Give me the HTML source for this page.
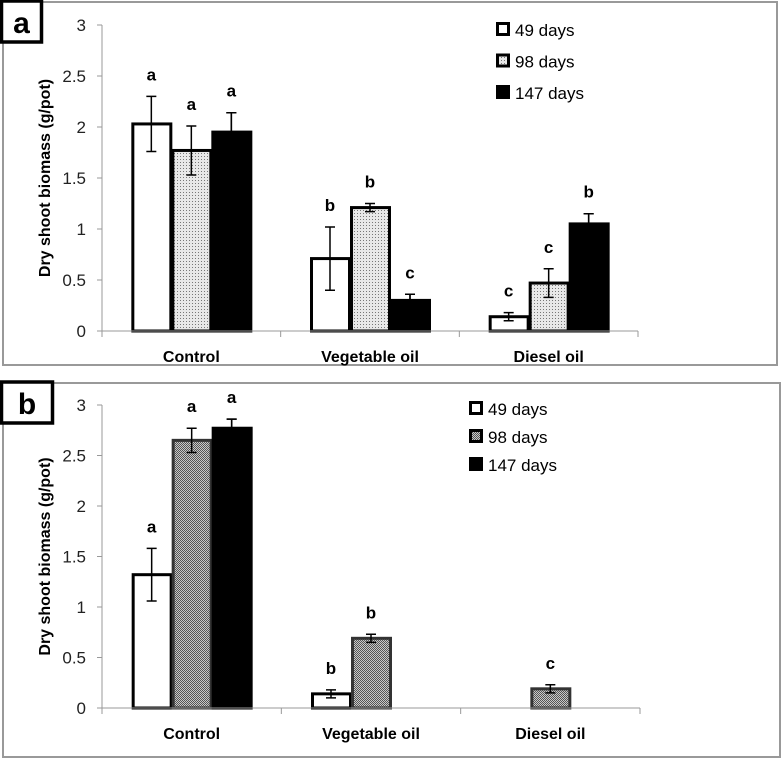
<!DOCTYPE html>
<html><head><meta charset="utf-8"><style>
body{margin:0;background:#fff;width:782px;height:760px;overflow:hidden}
svg{display:block;font-family:"Liberation Sans",sans-serif}
</style></head><body>
<svg id="c" width="782" height="760">
<defs>
<pattern id="dotA" width="3" height="3" patternUnits="userSpaceOnUse"><rect width="3" height="3" fill="#e8e8e8"/><rect width="1" height="1" fill="#777"/></pattern>
<pattern id="dotB" width="2" height="2" patternUnits="userSpaceOnUse"><rect width="2" height="2" fill="#c8c8c8"/><rect width="1" height="1" fill="#555"/><rect x="1" y="1" width="1" height="1" fill="#555"/></pattern>
</defs>
</svg>
<script>
const categories=["Control","Vegetable oil","Diesel oil"];
const seriesNames=["49 days","98 days","147 days"];
const ticks=[0,0.5,1,1.5,2,2.5,3];
const aValues=[[2.03,1.77,1.95],[0.71,1.21,0.30],[0.14,0.47,1.05]];
const aErrors=[[0.27,0.24,0.19],[0.31,0.04,0.06],[0.04,0.14,0.10]];
const aLetters=[["a","a","a"],["b","b","c"],["c","c","b"]];
const bValues=[[1.32,2.65,2.77],[0.14,0.69,0],[0,0.19,0]];
const bErrors=[[0.26,0.12,0.09],[0.04,0.04,0],[0,0.04,0]];
const bLetters=[["a","a","a"],["b","b",""],["","c",""]];
const NS="http://www.w3.org/2000/svg";
const svg=document.getElementById('c');
function mk(t,a,p){const e=document.createElementNS(NS,t);for(const k in a)e.setAttribute(k,a[k]);(p||svg).appendChild(e);return e;}
function panel(cfg){
  const g=mk('g',{});
  
  
  mk('rect',{x:cfg.fx,y:cfg.fy,width:cfg.fw,height:cfg.fh,fill:'none',stroke:'#999','stroke-width':2},g);
  const y=v=>cfg.y0-(v/3)*(cfg.y0-cfg.y3);
  const x0=102,x1=cfg.xe,cw=(x1-x0)/3;
  const ax=mk('line',{x1:x0,y1:cfg.y3,x2:x0,y2:cfg.y0,stroke:'#999','stroke-width':1},g);
  
  ticks.forEach(t=>{mk('line',{x1:x0-5,x2:x0,y1:y(t),y2:y(t),stroke:'#999'},g);
    const tx=mk('text',{x:86,y:y(t)+6,'text-anchor':'end','font-size':17,fill:'#222'},g);tx.textContent=t;
    });
  const yt=mk('text',{x:0,y:0,transform:`translate(50,${(cfg.y0+cfg.y3)/2}) rotate(-90)`,'text-anchor':'middle','font-size':16,'font-weight':'bold'},g);
  yt.textContent='Dry shoot biomass (g/pot)';
  const fills=['#fff',cfg.pat,'#000'];
  for(let i=0;i<=3;i++)mk('line',{x1:x0+i*cw,x2:x0+i*cw,y1:cfg.y0,y2:cfg.y0+6,stroke:'#999'},g);
  categories.forEach((c,ci)=>{
    const cx=x0+cw*(ci+0.5);
    const ct=mk('text',{x:cx,y:cfg.y0+31,'text-anchor':'middle','font-size':16,'font-weight':'bold'},g);ct.textContent=c;
    
    for(let s=0;s<3;s++){
      const v=cfg.vals[ci][s];const bx=cx-60+s*40;
      if(v>0){
        const r=mk('rect',{x:bx+1.5,y:y(v),width:38,height:cfg.y0-y(v),fill:fills[s],stroke:s==1&&cfg.id=='b'?'#333':'#000','stroke-width':3},g);
        
        const e=cfg.errs[ci][s];const ex=bx+20;const ec=s==2?'#000':'#000';
        if(e>0){mk('path',{d:`M${ex},${y(v-e)}V${y(v+e)}M${ex-5},${y(v+e)}H${ex+5}M${ex-5},${y(v-e)}H${ex+5}`,stroke:s==2?'#000':'#000','stroke-width':1.5,fill:'none'},g);
          if(s==2) mk('path',{d:`M${ex},${y(v)}V${y(v+e)}M${ex-5},${y(v+e)}H${ex+5}`,stroke:'#000','stroke-width':1.5},g);}
      }
      const L=cfg.lets[ci][s];
      if(L){const top=y(v+cfg.errs[ci][s]);const lt=mk('text',{x:bx+20,y:top-16,'text-anchor':'middle','font-size':17,'font-weight':'bold'},g);lt.textContent=L;
        }
    }
  });
  mk('line',{x1:x0,x2:x1,y1:cfg.y0,y2:cfg.y0,stroke:'#999'},g);
  seriesNames.forEach((n,i)=>{const ly=cfg.ly+i*cfg.lg;
    const lr=mk('rect',{x:cfg.lx+1.5,y:ly-6.5,width:11,height:11,fill:fills[i],stroke:'#000','stroke-width':3},g);
    
    const t=mk('text',{x:cfg.lx+19,y:ly+6,'font-size':17},g);t.textContent=n;
    });
  const bw=cfg.id=='a'?40:51;
  mk('rect',{x:1.5,y:cfg.fy-1,width:bw,height:41,fill:'#fff',stroke:'#000','stroke-width':3.5},g);
  const pl=mk('text',{x:1.5+bw/2,y:cfg.fy+31,'text-anchor':'middle','font-size':30,'font-weight':'bold'},g);pl.textContent=cfg.id;
  
}
panel({id:'a',fx:3,fy:2,fw:774,fh:363,y0:331,y3:25,xe:638,vals:aValues,errs:aErrors,lets:aLetters,pat:'url(#dotA)',lx:496,ly:30,lg:31.5});
panel({id:'b',fx:3,fy:383,fw:777,fh:374,y0:708,y3:405,xe:640,vals:bValues,errs:bErrors,lets:bLetters,pat:'url(#dotB)',lx:469,ly:409,lg:28});
</script>
</body></html>
